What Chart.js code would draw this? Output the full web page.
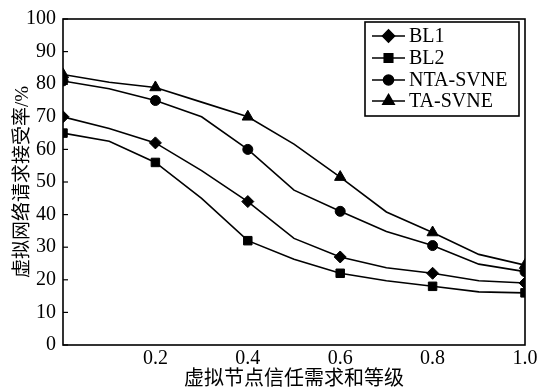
<!DOCTYPE html>
<html>
<head>
<meta charset="utf-8">
<script src="https://cdn.jsdelivr.net/npm/chart.js@4/dist/chart.umd.min.js"></script>
<style>
  html, body { margin: 0; padding: 0; background: #fff; }
  #wrap { width: 544px; height: 392px; }
</style>
</head>
<body>
<div id="wrap"><canvas id="chart" width="544" height="392"></canvas></div>
<script>
// x positions (trust demand level); marked points at 0, 0.2, ... 1.0
const xValues = [0, 0.1, 0.2, 0.3, 0.4, 0.5, 0.6, 0.7, 0.8, 0.9, 1.0];
const bl1 = [70, 66.4, 62, 53.5, 44, 32.7, 27, 23.7, 22, 19.7, 19];
const bl2 = [65, 62.5, 56, 45, 32, 26.3, 22, 19.7, 18, 16.3, 16];
const ntaSvne = [81, 78.6, 75, 70, 60, 47.5, 41, 34.8, 30.5, 24.8, 22.5];
const taSvne = [83, 80.6, 79, 74.5, 70, 61.6, 51.5, 40.8, 34.5, 27.8, 24.5];
const seriesNames = ["BL1", "BL2", "NTA-SVNE", "TA-SVNE"];
const yTicks = [0, 10, 20, 30, 40, 50, 60, 70, 80, 90, 100];

const serif = '"Liberation Serif", "Times New Roman", "Noto Sans CJK SC", serif';
const cjk = '"Liberation Serif", "Noto Sans CJK SC", serif';

function pts(values) {
  return values.map((v, i) => ({ x: xValues[i], y: v }));
}
// only every other point carries a marker
function radii(r) {
  return xValues.map((x, i) => (i % 2 === 0 ? r : 0));
}

const styles = [
  { style: "rectRot", r: 6 },
  { style: "rect", r: 6 },
  { style: "circle", r: 5 },
  { style: "triangle", r: 6.5 },
];

const datasets = [bl1, bl2, ntaSvne, taSvne].map((vals, k) => ({
  label: seriesNames[k],
  data: pts(vals),
  borderColor: "#000",
  backgroundColor: "#000",
  borderWidth: 1.6,
  pointStyle: styles[k].style,
  pointRadius: radii(styles[k].r),
  pointHoverRadius: radii(styles[k].r),
  pointBorderWidth: 1,
  tension: 0,
  fill: false,
}));

// frame, inward y ticks and legend drawn inside the plot
const framePlugin = {
  id: "frame",
  afterDraw(chart) {
    const ctx = chart.ctx;
    const a = chart.chartArea;
    const ys = chart.scales.y;
    ctx.save();
    ctx.strokeStyle = "#000";
    ctx.lineWidth = 1.6;
    ctx.strokeRect(a.left, a.top, a.right - a.left, a.bottom - a.top);
    ctx.lineWidth = 1.2;
    yTicks.forEach((t) => {
      const y = ys.getPixelForValue(t);
      ctx.beginPath();
      ctx.moveTo(a.left, y);
      ctx.lineTo(a.left + 5, y);
      ctx.stroke();
    });

    // legend
    const bx = 365, by = 22, bw = 154, bh = 94;
    ctx.fillStyle = "#fff";
    ctx.fillRect(bx, by, bw, bh);
    ctx.lineWidth = 1.6;
    ctx.strokeRect(bx, by, bw, bh);
    const rows = [36, 58, 80, 101];
    ctx.font = "20px " + serif;
    ctx.textBaseline = "middle";
    ctx.textAlign = "left";
    rows.forEach((ry, k) => {
      ctx.strokeStyle = "#000";
      ctx.lineWidth = 1.6;
      ctx.beginPath();
      ctx.moveTo(372, ry);
      ctx.lineTo(405, ry);
      ctx.stroke();
      ctx.fillStyle = "#000";
      Chart.helpers.drawPoint(ctx, {
        pointStyle: styles[k].style,
        radius: styles[k].r,
        borderWidth: 1,
        rotation: 0,
      }, 388.5, ry);
      ctx.fillStyle = "#000";
      ctx.fillText(seriesNames[k], 409, ry + 1);
    });
    ctx.restore();
  },
};

new Chart(document.getElementById("chart").getContext("2d"), {
  type: "line",
  data: { datasets: datasets },
  options: {
    responsive: false,
    animation: false,
    events: [],
    layout: { padding: { top: 15, right: 19, left: 0, bottom: 0 } },
    plugins: {
      legend: { display: false },
      tooltip: { enabled: false },
    },
    scales: {
      x: {
        type: "linear",
        min: 0,
        max: 1,
        grid: { display: false, drawTicks: false },
        border: { display: false },
        ticks: {
          stepSize: 0.2,
          padding: 2,
          color: "#000",
          font: { family: serif, size: 20 },
          callback: (v) => (v === 0 ? "" : v.toFixed(1)),
        },
        title: {
          display: true,
          text: "虚拟节点信任需求和等级",
          color: "#000",
          font: { family: cjk, size: 20, lineHeight: 1.2 },
          padding: { top: 0, bottom: 0 },
        },
        afterFit: (s) => { s.height = 47; },
      },
      y: {
        min: 0,
        max: 100,
        grid: { display: false, drawTicks: false },
        border: { display: false },
        ticks: {
          stepSize: 10,
          padding: 7,
          color: "#000",
          font: { family: serif, size: 20 },
        },
        title: {
          display: true,
          text: "虚拟网络请求接受率/%",
          color: "#000",
          font: { family: cjk, size: 19, lineHeight: 1.2 },
          padding: { top: 12, bottom: 0 },
        },
        afterFit: (s) => { s.width = 63; },
      },
    },
  },
  plugins: [framePlugin],
});
</script>
</body>
</html>
